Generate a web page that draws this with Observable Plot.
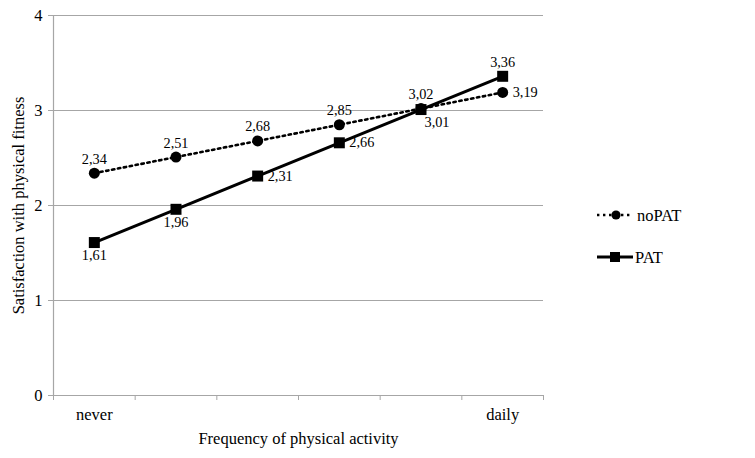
<!DOCTYPE html>
<html>
<head>
<meta charset="utf-8">
<script src="https://cdn.jsdelivr.net/npm/d3@7"></script>
<script src="https://cdn.jsdelivr.net/npm/@observablehq/plot@0.6"></script>
<style>
  html, body { margin: 0; padding: 0; background: #fff; }
  #wrap { position: relative; width: 755px; height: 458px; font-family: "Liberation Serif", "Times New Roman", serif; }
  #legend { position: absolute; left: 0; top: 0; pointer-events: none; }
</style>
</head>
<body>
<div id="wrap"></div>
<script>
const categories = ["never", "", "", "", "", "daily"];
const series = ["noPAT", "PAT"];
const noPAT = [2.34, 2.51, 2.68, 2.85, 3.02, 3.19];
const PAT = [1.61, 1.96, 2.31, 2.66, 3.01, 3.36];
const yTicks = [0, 1, 2, 3, 4];
const xLabel = "Frequency of physical activity";
const yLabel = "Satisfaction with physical fitness";

const fmt = d3.formatLocale({decimal: ",", thousands: ".", grouping: [3], currency: ["", ""]}).format(".2f");

const rowsNo = noPAT.map((v, i) => ({i, v, s: "noPAT"}));
const rowsP = PAT.map((v, i) => ({i, v, s: "PAT"}));
const bounds = d3.range(categories.length + 1).map(k => k - 0.5);

const font = {fontFamily: "Liberation Serif", fontSize: 14.3, fill: "#000"};

const chart = Plot.plot({
  width: 755,
  height: 458,
  marginLeft: 53,
  marginRight: 212,
  marginTop: 15,
  marginBottom: 63,
  style: {fontFamily: "Liberation Serif", fontSize: "16px", color: "#000", background: "#fff"},
  x: {type: "linear", domain: [-0.5, categories.length - 0.5]},
  y: {domain: [0, 4]},
  marks: [
    Plot.ruleY(yTicks.filter(d => d > 0), {stroke: "#a6a6a6", strokeWidth: 1.2}),
    Plot.ruleX([-0.5], {stroke: "#a6a6a6", strokeWidth: 1.2}),
    Plot.ruleY([0], {stroke: "#a6a6a6", strokeWidth: 1.2}),
    Plot.axisY({ticks: yTicks, tickSize: 5, tickPadding: 6, stroke: "#a6a6a6", fontSize: 16,
      tickFormat: d3.format("d"),
      label: yLabel, labelAnchor: "center", labelOffset: 41, labelArrow: "none"}),
    Plot.axisX({ticks: bounds, tickSize: 5, tickFormat: () => "", stroke: "#a6a6a6", label: null}),
    Plot.axisX({ticks: d3.range(categories.length), tickSize: 0, tickPadding: 13,
      tickFormat: i => categories[i], fontSize: 16.3,
      label: xLabel, labelAnchor: "center", labelOffset: 48, labelArrow: "none"}),
    Plot.line(rowsNo, {x: "i", y: "v", stroke: "#000", strokeWidth: 2.6, strokeDasharray: "2.4,3.6"}),
    Plot.line(rowsP, {x: "i", y: "v", stroke: "#000", strokeWidth: 3}),
    Plot.dot(rowsNo, {x: "i", y: "v", r: 5.5, fill: "#000", stroke: "none"}),
    Plot.dot(rowsP, {x: "i", y: "v", r: 6.2, symbol: "square", fill: "#000", stroke: "none"}),
    // noPAT labels: above, except last to the right
    Plot.text(rowsNo.filter(d => d.i < 5), {x: "i", y: "v", text: d => fmt(d.v), dy: -14, ...font}),
    Plot.text(rowsNo.filter(d => d.i === 5), {x: "i", y: "v", text: d => fmt(d.v), dx: 10, textAnchor: "start", ...font}),
    // PAT labels
    Plot.text(rowsP.filter(d => d.i < 2), {x: "i", y: "v", text: d => fmt(d.v), dy: 13, ...font}),
    Plot.text(rowsP.filter(d => d.i === 2 || d.i === 3), {x: "i", y: "v", text: d => fmt(d.v), dx: 10, textAnchor: "start", ...font}),
    Plot.text(rowsP.filter(d => d.i === 4), {x: "i", y: "v", text: d => fmt(d.v), dx: 16, dy: 13, ...font}),
    Plot.text(rowsP.filter(d => d.i === 5), {x: "i", y: "v", text: d => fmt(d.v), dy: -14, ...font})
  ]
});

const wrap = document.getElementById("wrap");
wrap.appendChild(chart);
// Slightly larger axis titles
d3.select(chart).selectAll("[aria-label$='label'] text, [aria-label='x-axis label'] text, [aria-label='y-axis label'] text").attr("font-size", 16.5);

// Legend overlay
const leg = d3.create("svg").attr("id", "legend").attr("width", 755).attr("height", 458);
const items = leg.selectAll("g").data(series).join("g")
  .attr("transform", (d, k) => `translate(597,${215 + k * 42})`);
items.append("line").attr("x1", 0).attr("x2", d => d === "noPAT" ? 34 : 36).attr("y1", 0).attr("y2", 0)
  .attr("stroke", "#000")
  .attr("stroke-width", d => d === "noPAT" ? 2.6 : 3)
  .attr("stroke-dasharray", d => d === "noPAT" ? "2.4,3.6" : null);
items.filter(d => d === "noPAT").append("circle").attr("cx", 19).attr("cy", 0).attr("r", 4.6).attr("fill", "#000");
items.filter(d => d === "PAT").append("rect").attr("x", 13).attr("y", -5).attr("width", 10).attr("height", 10).attr("fill", "#000");
items.append("text").attr("x", d => d === "noPAT" ? 40 : 38).attr("y", 0).attr("dy", "0.35em")
  .attr("font-family", "Liberation Serif").attr("font-size", 16.5).text(d => d);
wrap.appendChild(leg.node());
</script>
</body>
</html>
